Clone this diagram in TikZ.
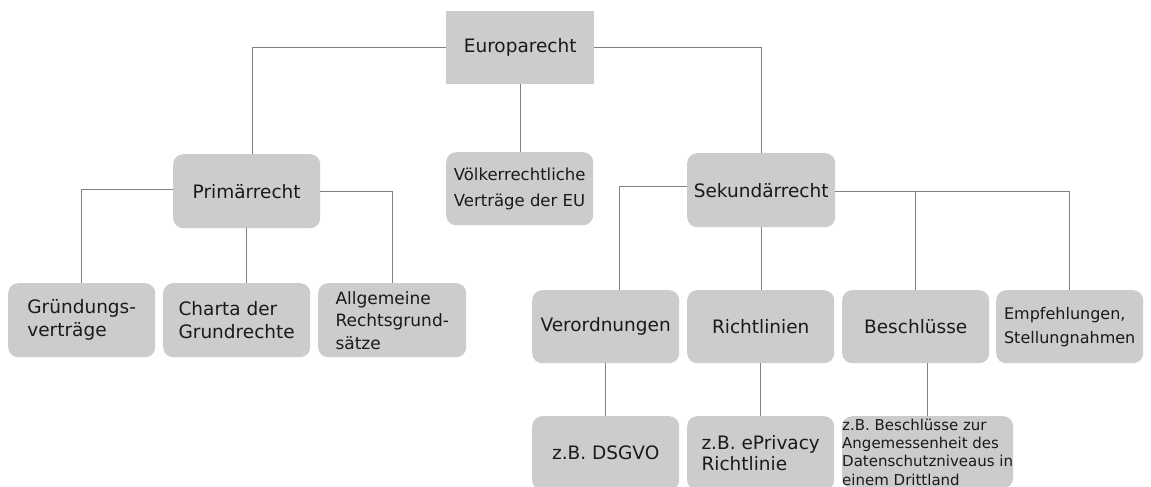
\documentclass[tikz,border=0pt]{standalone}
\usepackage{fontspec}
\setmainfont{DejaVu Sans}
\definecolor{boxgray}{HTML}{CCCCCC}
\definecolor{linegray}{HTML}{808080}
\definecolor{ink}{HTML}{1A1A1A}
\newcommand{\setfs}[2]{\fontsize{#1}{#2}\selectfont}
\tikzset{
  box/.style={fill=boxgray, rounded corners=10pt, inner sep=0pt, text=ink,
              align=left, anchor=north west, font=\setfs{18.5}{23}},
  conn/.style={draw=linegray, line width=1.1pt, sharp corners},
}
\begin{document}
\begin{tikzpicture}[x=1pt, y=-1pt]
  \clip (0,0) rectangle (1151,487);
  \fill[white] (0,0) rectangle (1151,487);

  % top level
  \node[box, sharp corners, minimum width=148pt, minimum height=73pt] (euro) at (446,11) {Europarecht};

  % second level
  \node[box, minimum width=147pt, minimum height=74pt] (prim) at (173,154) {Primärrecht};
  \node[box, minimum width=147pt, minimum height=73pt, font=\setfs{16.5}{25.5}] (voelk) at (446,152) {Völkerrechtliche\\Verträge der EU};
  \node[box, minimum width=148pt, minimum height=74pt] (sek) at (687,153) {Sekundärrecht};

  % primary law
  \node[box, minimum width=147pt, minimum height=74pt] (grund) at (8,283) {Gründungs-\\verträge};
  \node[box, minimum width=147pt, minimum height=74pt] (charta) at (163,283) {Charta der\\Grundrechte};
  \node[box, minimum width=148pt, minimum height=74pt, font=\setfs{17}{22.5}] (allg) at (318,283) {Allgemeine\\Rechtsgrund-\\sätze};

  % secondary law
  \node[box, minimum width=147pt, minimum height=73pt] (verord) at (532,290) {Verordnungen};
  \node[box, minimum width=147pt, minimum height=73pt] (richt) at (687,290) {Richtlinien};
  \node[box, minimum width=147pt, minimum height=73pt] (beschl) at (842,290) {Beschlüsse};
  \node[box, minimum width=147pt, minimum height=73pt, font=\setfs{16}{24}] (empf) at (996,290) {Empfehlungen,\\Stellungnahmen};

  % examples
  \node[box, minimum width=147pt, minimum height=74pt] (dsgvo) at (532,416) {z.B. DSGVO};
  \node[box, minimum width=147pt, minimum height=74pt, font=\setfs{18.5}{21.5}] (epriv) at (687,416) {z.B. ePrivacy\\Richtlinie};
  \node[box, minimum width=170pt, minimum height=72pt, font=\setfs{15}{18.2}] (angem) at (842,416) {z.B. Beschlüsse zur\\Angemessenheit des\\Datenschutzniveaus in\\einem Drittland};

  % connectors from the top node
  \draw[conn] (euro.west) -| ([xshift=5.5pt]prim.north);
  \draw[conn] (euro.east) -| (sek.north);
  \draw[conn] (euro.south) -- (euro.south |- voelk.north);

  % connectors of primary law
  \draw[conn] ([yshift=2pt]prim.west) -| (grund.north);
  \draw[conn] (prim.east) -| (allg.north);
  \draw[conn] (prim.south) -- (prim.south |- charta.north);

  % connectors of secondary law
  \coordinate (sekR) at ([yshift=-1pt]sek.east);
  \draw[conn] ([yshift=4pt]sek.west) -| ([xshift=13.5pt]verord.north);
  \draw[conn] (sekR) -| (empf.north);
  \draw[conn] (beschl.north |- sekR) -- (beschl.north);
  \draw[conn] (sek.south) -- (sek.south |- richt.north);

  % connectors to the examples
  \draw[conn] (verord.south) -- (verord.south |- dsgvo.north);
  \draw[conn] (richt.south) -- (richt.south |- epriv.north);
  \draw[conn] (angem.north |- beschl.south) -- (angem.north);
\end{tikzpicture}
\end{document}
